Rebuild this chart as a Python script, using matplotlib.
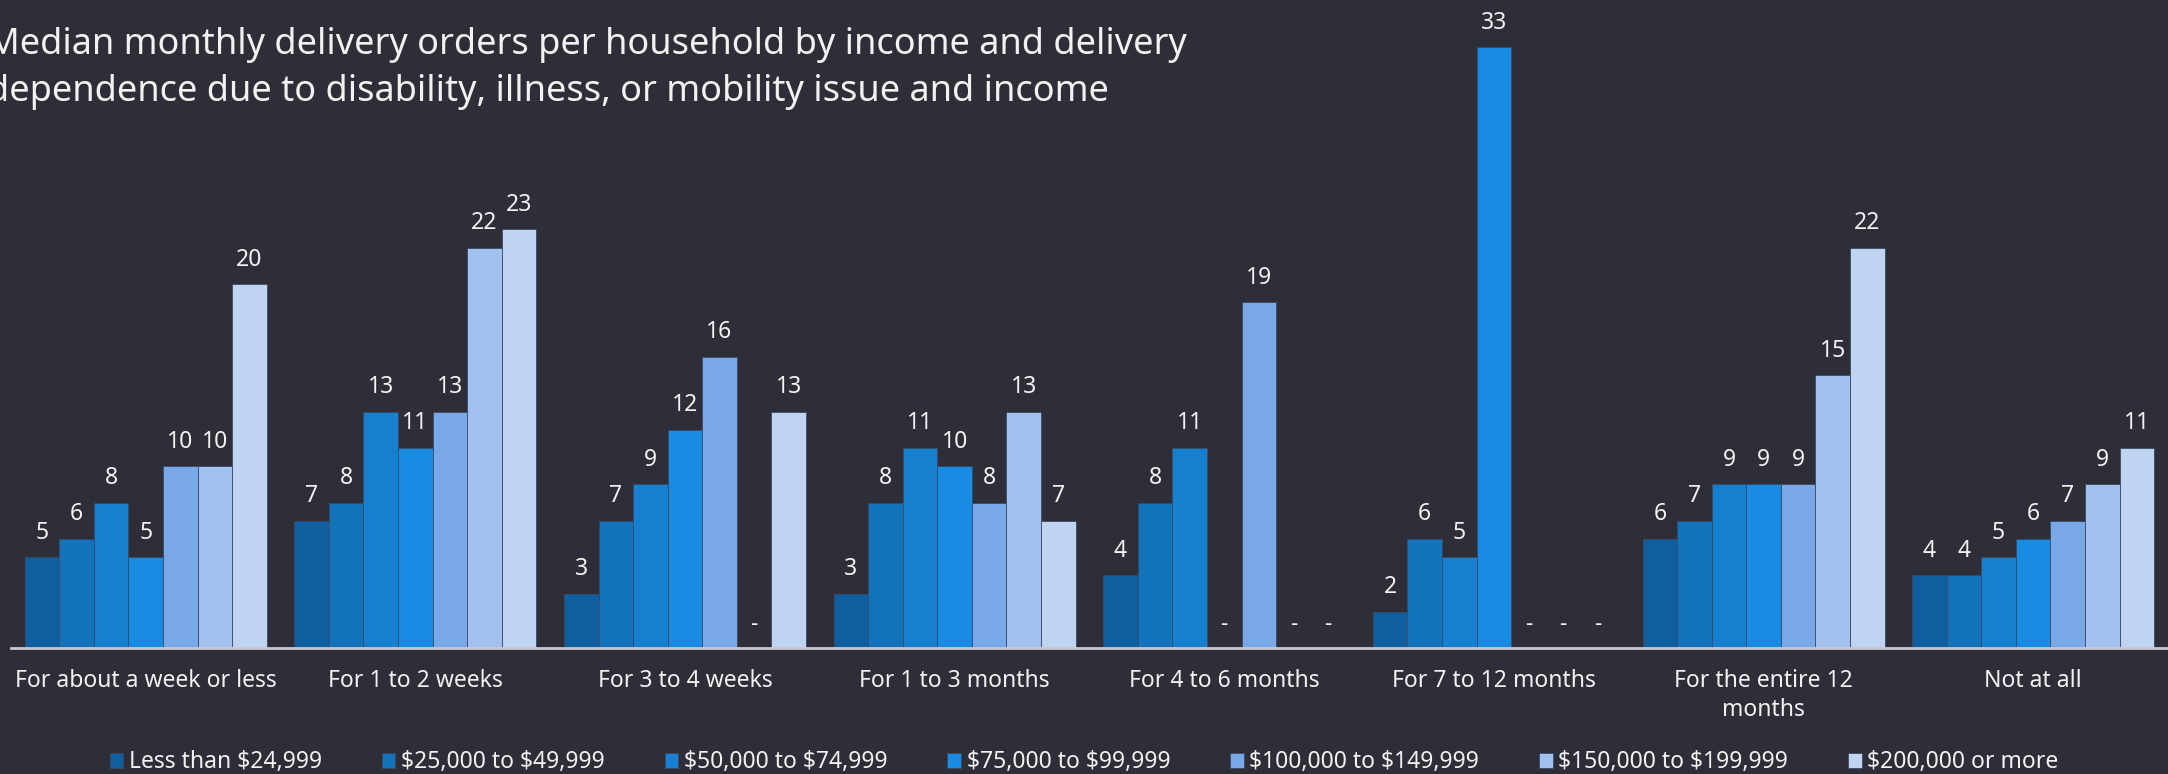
import matplotlib
matplotlib.use("Agg")
import matplotlib.pyplot as plt
import numpy as np

plt.rcParams['font.family'] = ['Noto Sans', 'DejaVu Sans']
plt.rcParams['text.parse_math'] = False

# median orders per household, one list per income band (None = no data)
categories = ["For about a week or less", "For 1 to 2 weeks", "For 3 to 4 weeks",
              "For 1 to 3 months", "For 4 to 6 months", "For 7 to 12 months",
              "For the entire 12\nmonths", "Not at all"]
income_bands = ["Less than $24,999", "$25,000 to $49,999", "$50,000 to $74,999",
                "$75,000 to $99,999", "$100,000 to $149,999", "$150,000 to $199,999",
                "$200,000 or more"]
under_25k = [5, 7, 3, 3, 4, 2, 6, 4]
k25_50 = [6, 8, 7, 8, 8, 6, 7, 4]
k50_75 = [8, 13, 9, 11, 11, 5, 9, 5]
k75_100 = [5, 11, 12, 10, None, 33, 9, 6]
k100_150 = [10, 13, 16, 8, 19, None, 9, 7]
k150_200 = [10, 22, None, 13, None, None, 15, 9]
over_200k = [20, 23, 13, 7, None, None, 22, 11]
series = [under_25k, k25_50, k50_75, k75_100, k100_150, k150_200, over_200k]

colors = ["#0F5FA0", "#1272BA", "#167FD0", "#188BE2", "#78A8E8", "#A3C1EE", "#C0D4F2"]
bg = "#2E2E38"
txt = "#F2F2F2"

fig = plt.figure(figsize=(21.68, 7.74), dpi=100, facecolor=bg)
ax = fig.add_axes([0.005, 0.1625, 0.995, 0.8375], facecolor=bg)

x = np.arange(len(categories))
w = 0.1282
for i, (vals, name) in enumerate(zip(series, income_bands)):
    pos = x + (i - 3) * w
    h = [v if v is not None else 0 for v in vals]
    bars = ax.bar(pos, h, width=w, color=colors[i], edgecolor="#3A4A66",
                  linewidth=0.6, label=name, zorder=2)
    labels = [str(v) if v is not None else "-" for v in vals]
    ax.bar_label(bars, labels=labels, padding=9, color=txt, fontsize=16.5)

ax.set_xlim(-0.5, 7.5)
ax.set_ylim(0, 35.6)
ax.set_yticks([])
ax.set_xticks(x)
ax.set_xticklabels(categories, color=txt, fontsize=16.5, linespacing=1.25)
ax.tick_params(axis='x', length=0, pad=15)
for s in ["top", "right", "left"]:
    ax.spines[s].set_visible(False)
ax.spines["bottom"].set_color("#C8C8D0")
ax.spines["bottom"].set_linewidth(2)

fig.text(-0.006, 0.912, "Median monthly delivery orders per household by income and delivery\n"
         "dependence due to disability, illness, or mobility issue and income",
         color=txt, fontsize=26, va="center", ha="left", linespacing=1.4)

leg = fig.legend(loc="center", bbox_to_anchor=(0.5, 0.015), ncol=7, frameon=False,
                 fontsize=16.5, handlelength=0.6, handleheight=0.6, handletextpad=0.25,
                 columnspacing=2.6, labelcolor=txt)

fig.savefig("out.png", dpi=100, facecolor=bg)
